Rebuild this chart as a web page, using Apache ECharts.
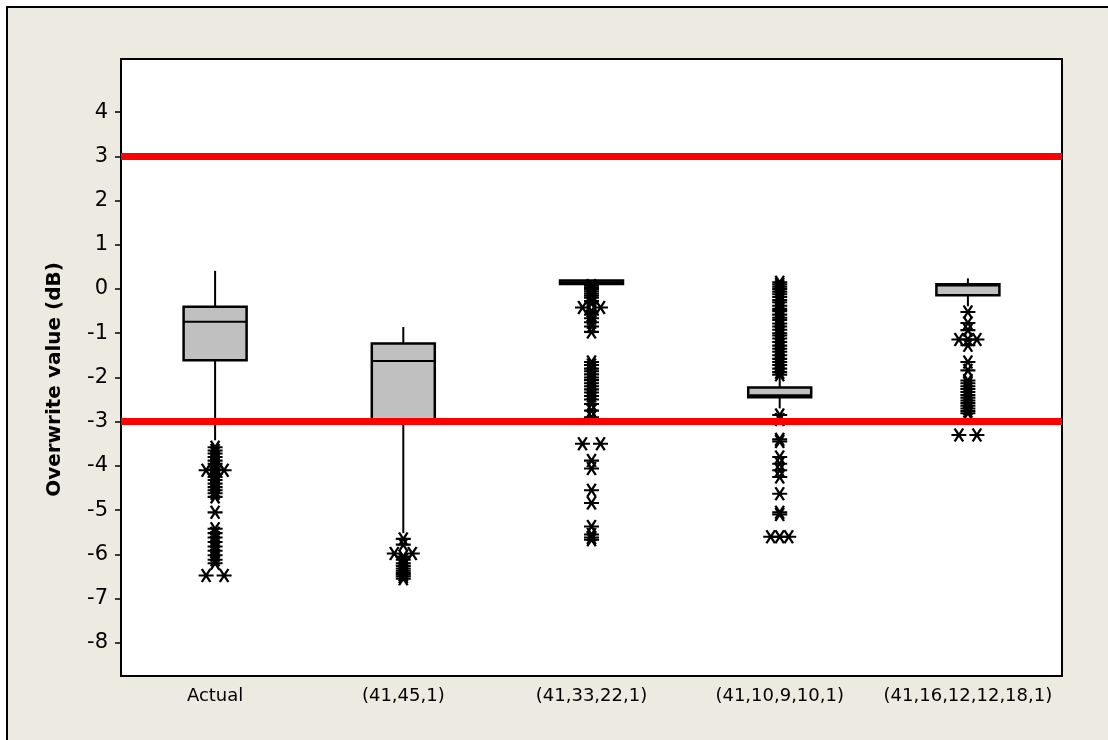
<!DOCTYPE html>
<html>
<head>
<meta charset="utf-8">
<script src="https://cdn.jsdelivr.net/npm/echarts@6/dist/echarts.min.js"></script>
<style>
  html, body { margin: 0; padding: 0; background: #fff; }
  #main { width: 1108px; height: 740px; }
</style>
</head>
<body>
<div id="main"></div>
<script>
'use strict'
// categories and box statistics (low whisker, Q1, median, Q3, high whisker)
var categories = ['Actual', '(41,45,1)', '(41,33,22,1)', '(41,10,9,10,1)', '(41,16,12,12,18,1)'];
var boxLow    = [-3.42, -5.52, 0.115, -2.70, -0.39];
var boxQ1     = [-1.61, -3.00, 0.115, -2.45, -0.14];
var boxMedian = [-0.74, -1.63, 0.155, -2.40,  0.08];
var boxQ3     = [-0.40, -1.23, 0.19,  -2.23,  0.11];
var boxHigh   = [ 0.41, -0.86, 0.19,  -1.99,  0.24];

// outliers, one list per category
var outActual = [-3.58, -3.65, -3.72, -3.8, -3.88, -3.95, -4.02, -4.08, -4.1, -4.1, -4.18, -4.25, -4.32,
  -4.4, -4.48, -4.55, -4.62, -4.7, -5.05, -5.42, -5.52, -5.62, -5.72, -5.82, -5.92, -6.02, -6.12, -6.2,
  -6.48, -6.48];
var out45 = [-5.65, -5.78, -5.98, -5.98, -6.05, -6.12, -6.2, -6.26, -6.32, -6.37, -6.42, -6.46, -6.5, -6.55];
var out33 = [0.08, 0.04, 0.0, -0.05, -0.1, -0.15, -0.2, -0.27, -0.33, -0.42, -0.42, -0.5, -0.58, -0.66,
  -0.75, -0.85, -0.97, -1.65, -1.72, -1.8, -1.86, -1.93, -2.0, -2.06, -2.13, -2.2, -2.27, -2.34, -2.42,
  -2.5, -2.6, -2.75, -2.9, -3.5, -3.5, -3.88, -4.06, -4.55, -4.84, -5.37, -5.55, -5.62, -5.67];
var out10 = [0.15, 0.1, 0.05, 0.0, -0.06, -0.12, -0.18, -0.25, -0.3, -0.38, -0.45, -0.5, -0.58, -0.65,
  -0.7, -0.78, -0.85, -0.92, -1.0, -1.05, -1.12, -1.2, -1.28, -1.35, -1.42, -1.5, -1.58, -1.65, -1.72,
  -1.8, -1.88, -1.94, -2.85, -2.95, -3.4, -3.45, -3.8, -3.95, -4.1, -4.25, -4.63, -5.05, -5.1,
  -5.6, -5.6, -5.6];
var out16 = [-0.52, -0.77, -0.93, -1.14, -1.14, -1.14, -1.27, -1.65, -1.84, -2.07, -2.13, -2.2, -2.26,
  -2.33, -2.4, -2.46, -2.52, -2.58, -2.64, -2.7, -2.76, -2.81, -3.3, -3.3];

var yTicks = [-8, -7, -6, -5, -4, -3, -2, -1, 0, 1, 2, 3, 4];
var refLines = [3, -3];

var boxData = categories.map(function (c, i) {
  return [i, boxLow[i], boxQ1[i], boxMedian[i], boxQ3[i], boxHigh[i]];
});

// equal values are drawn side by side, like the original
function spread(vals, idx) {
  var counts = {}, seen = {};
  vals.forEach(function (v) { counts[v] = (counts[v] || 0) + 1; });
  return vals.map(function (v) {
    var n = counts[v], k = seen[v] || 0;
    seen[v] = k + 1;
    var off = n > 1 ? (k - (n - 1) / 2) * (18 / (n - 1)) : 0;
    return { value: [idx, v], symbolOffset: [off, 0] };
  });
}
var outData = [].concat(spread(outActual, 0), spread(out45, 1), spread(out33, 2), spread(out10, 3), spread(out16, 4));

var myChart = echarts.init(document.getElementById('main'));
var font = 'DejaVu Sans';

var option = {
  backgroundColor: '#fff',
  animation: false,
  graphic: [{
    type: 'rect', z: -10, silent: true,
    shape: { x: 7, y: 7, width: 1200, height: 800 },
    style: { fill: '#EDEAE1', stroke: '#000', lineWidth: 2 }
  }],
  grid: {
    left: 121, top: 59, right: 46, bottom: 64,
    show: true, backgroundColor: '#fff', borderColor: '#000', borderWidth: 2
  },
  xAxis: {
    type: 'category',
    data: categories,
    boundaryGap: true,
    axisLine: { onZero: false, lineStyle: { color: '#000', width: 2 } },
    axisTick: { alignWithLabel: true, length: 6, lineStyle: { color: '#000', width: 1.5 } },
    axisLabel: { color: '#000', fontFamily: font, fontSize: 18, margin: 11, interval: 0, hideOverlap: false },
    splitLine: { show: false }
  },
  yAxis: {
    type: 'value',
    min: -8.75, max: 5.2,
    name: 'Overwrite value (dB)',
    nameLocation: 'middle',
    nameGap: 56,
    nameTextStyle: { color: '#000', fontFamily: font, fontSize: 20, fontWeight: 'bold', padding: [0, 24, 0, 0] },
    axisLine: { show: true, onZero: false, lineStyle: { color: '#000', width: 2 } },
    axisTick: { show: true, length: 6, customValues: yTicks, lineStyle: { color: '#000', width: 1.5 } },
    axisLabel: { color: '#000', fontFamily: font, fontSize: 21, margin: 13, customValues: yTicks },
    splitLine: { show: false }
  },
  series: [
    {
      type: 'line',
      data: [],
      markLine: {
        silent: true,
        symbol: 'none',
        label: { show: false },
        lineStyle: { color: '#FF0000', width: 7, type: 'solid' },
        data: refLines.map(function (v) { return { yAxis: v }; })
      },
      z: 1
    },
    {
      type: 'custom',
      data: boxData,
      z: 3,
      renderItem: function (params, api) {
        var x = api.value(0);
        var pLow = api.coord([x, api.value(1)]);
        var pQ1 = api.coord([x, api.value(2)]);
        var pMed = api.coord([x, api.value(3)]);
        var pQ3 = api.coord([x, api.value(4)]);
        var pHigh = api.coord([x, api.value(5)]);
        var cx = pQ1[0], hw = 31.5;
        var line = { stroke: '#000', lineWidth: 2 };
        return {
          type: 'group',
          children: [
            { type: 'line', shape: { x1: cx, y1: pHigh[1], x2: cx, y2: pQ3[1] }, style: line },
            { type: 'line', shape: { x1: cx, y1: pQ1[1], x2: cx, y2: pLow[1] }, style: line },
            { type: 'rect', shape: { x: cx - hw, y: pQ3[1], width: hw * 2, height: pQ1[1] - pQ3[1] },
              style: { fill: '#C0C0C0', stroke: '#000', lineWidth: 2.5 } },
            { type: 'line', shape: { x1: cx - hw, y1: pMed[1], x2: cx + hw, y2: pMed[1] }, style: line }
          ]
        };
      }
    },
    {
      type: 'scatter',
      data: outData,
      z: 4,
      symbol: 'path://M0,6L14,6M3,0L11,12M11,0L3,12',
      symbolSize: [15, 13],
      itemStyle: { color: 'rgba(0,0,0,0)', borderColor: '#000', borderWidth: 2.2, opacity: 1 }
    }
  ]
};
myChart.setOption(option);
</script>
</body>
</html>
